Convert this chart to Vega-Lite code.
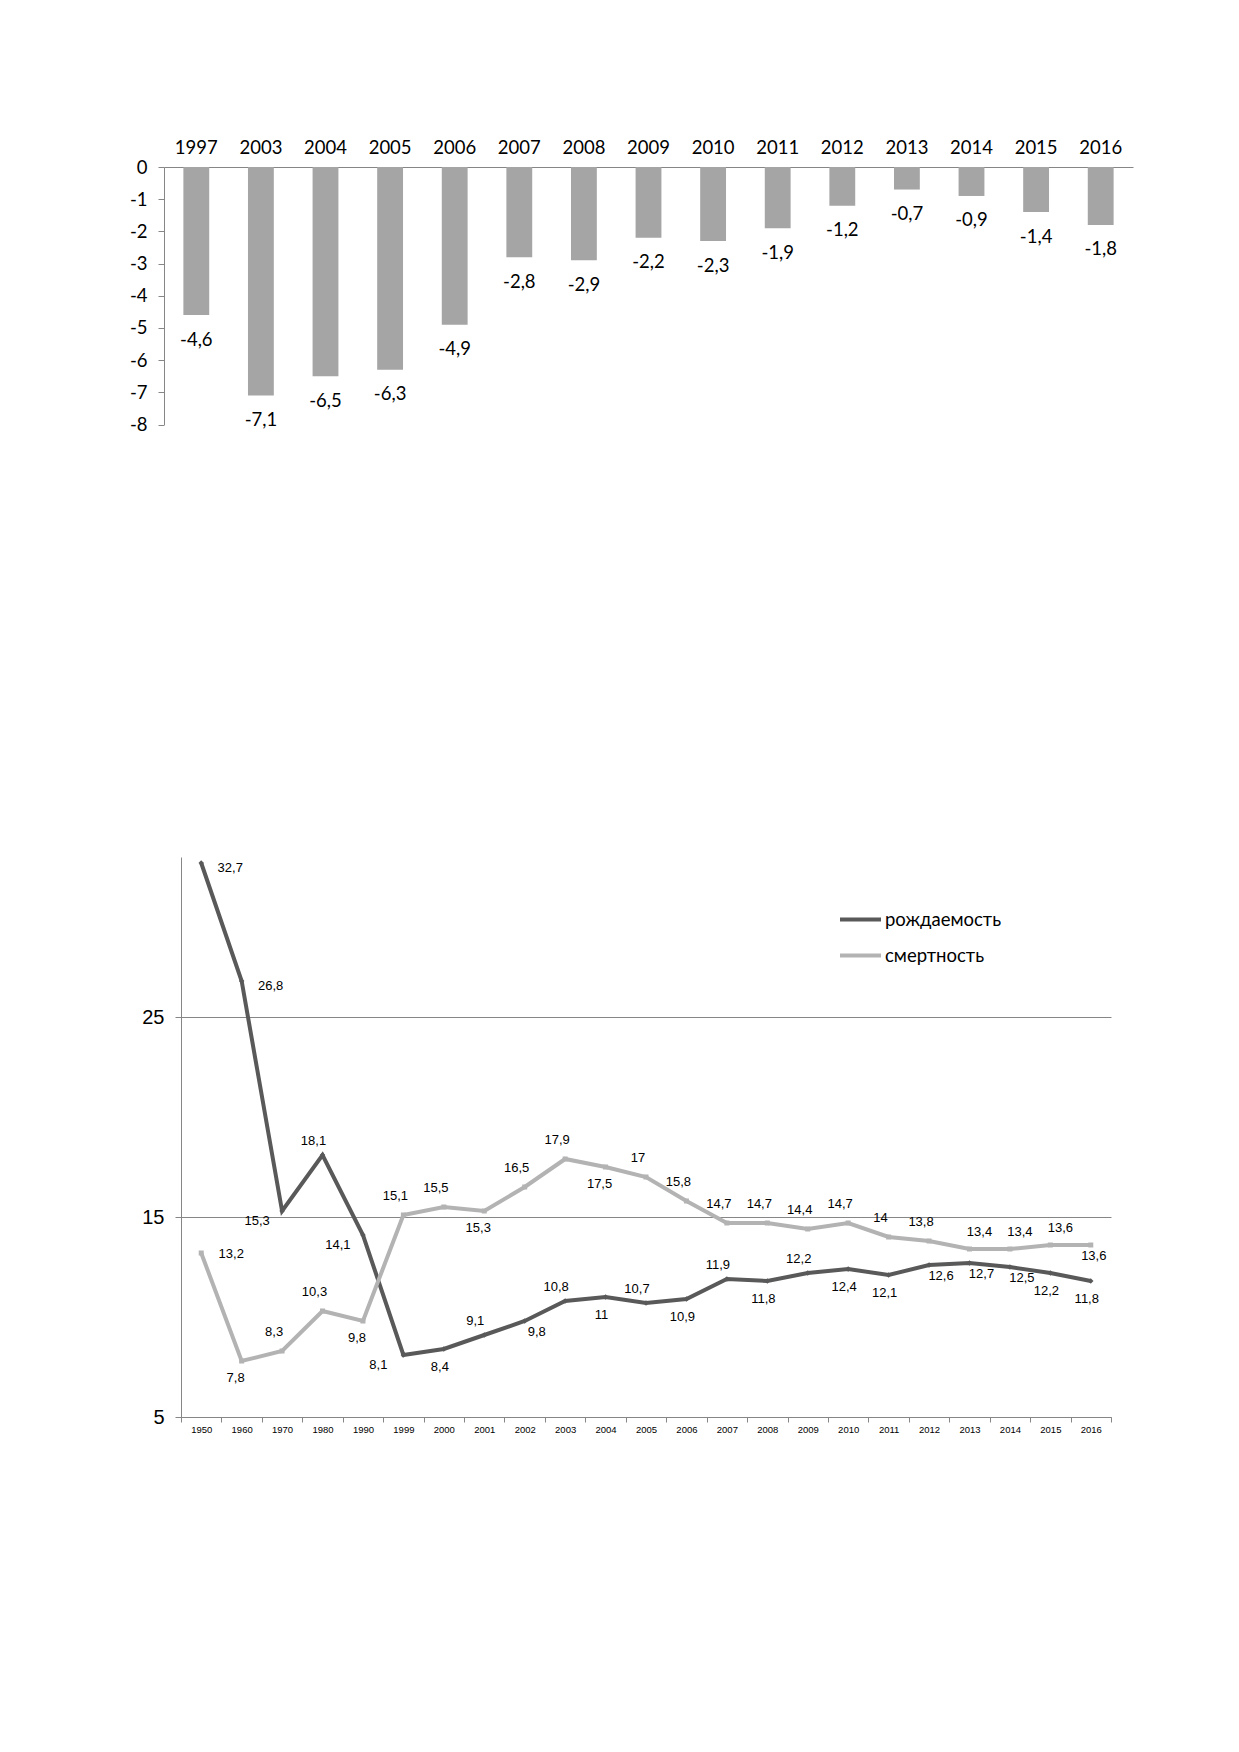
{
  "$schema": "https://vega.github.io/schema/vega-lite/v6.json",
  "padding": {"left": 129, "top": 138, "right": 5, "bottom": 5},
  "background": "white",
  "config": {
    "view": {"stroke": null},
    "axis": {"domainColor": "#868686", "tickColor": "#868686", "labelColor": "#000000", "title": null}
  },
  "datasets": {
    "bars": [
      {"year": "1997", "value": -4.6},
      {"year": "2003", "value": -7.1},
      {"year": "2004", "value": -6.5},
      {"year": "2005", "value": -6.3},
      {"year": "2006", "value": -4.9},
      {"year": "2007", "value": -2.8},
      {"year": "2008", "value": -2.9},
      {"year": "2009", "value": -2.2},
      {"year": "2010", "value": -2.3},
      {"year": "2011", "value": -1.9},
      {"year": "2012", "value": -1.2},
      {"year": "2013", "value": -0.7},
      {"year": "2014", "value": -0.9},
      {"year": "2015", "value": -1.4},
      {"year": "2016", "value": -1.8}
    ],
    "rates": [
      {"year": "1950", "series": "рождаемость", "value": 32.7},
      {"year": "1960", "series": "рождаемость", "value": 26.8},
      {"year": "1970", "series": "рождаемость", "value": 15.3},
      {"year": "1980", "series": "рождаемость", "value": 18.1},
      {"year": "1990", "series": "рождаемость", "value": 14.1},
      {"year": "1999", "series": "рождаемость", "value": 8.1},
      {"year": "2000", "series": "рождаемость", "value": 8.4},
      {"year": "2001", "series": "рождаемость", "value": 9.1},
      {"year": "2002", "series": "рождаемость", "value": 9.8},
      {"year": "2003", "series": "рождаемость", "value": 10.8},
      {"year": "2004", "series": "рождаемость", "value": 11},
      {"year": "2005", "series": "рождаемость", "value": 10.7},
      {"year": "2006", "series": "рождаемость", "value": 10.9},
      {"year": "2007", "series": "рождаемость", "value": 11.9},
      {"year": "2008", "series": "рождаемость", "value": 11.8},
      {"year": "2009", "series": "рождаемость", "value": 12.2},
      {"year": "2010", "series": "рождаемость", "value": 12.4},
      {"year": "2011", "series": "рождаемость", "value": 12.1},
      {"year": "2012", "series": "рождаемость", "value": 12.6},
      {"year": "2013", "series": "рождаемость", "value": 12.7},
      {"year": "2014", "series": "рождаемость", "value": 12.5},
      {"year": "2015", "series": "рождаемость", "value": 12.2},
      {"year": "2016", "series": "рождаемость", "value": 11.8},
      {"year": "1950", "series": "смертность", "value": 13.2},
      {"year": "1960", "series": "смертность", "value": 7.8},
      {"year": "1970", "series": "смертность", "value": 8.3},
      {"year": "1980", "series": "смертность", "value": 10.3},
      {"year": "1990", "series": "смертность", "value": 9.8},
      {"year": "1999", "series": "смертность", "value": 15.1},
      {"year": "2000", "series": "смертность", "value": 15.5},
      {"year": "2001", "series": "смертность", "value": 15.3},
      {"year": "2002", "series": "смертность", "value": 16.5},
      {"year": "2003", "series": "смертность", "value": 17.9},
      {"year": "2004", "series": "смертность", "value": 17.5},
      {"year": "2005", "series": "смертность", "value": 17},
      {"year": "2006", "series": "смертность", "value": 15.8},
      {"year": "2007", "series": "смертность", "value": 14.7},
      {"year": "2008", "series": "смертность", "value": 14.7},
      {"year": "2009", "series": "смертность", "value": 14.4},
      {"year": "2010", "series": "смертность", "value": 14.7},
      {"year": "2011", "series": "смертность", "value": 14},
      {"year": "2012", "series": "смертность", "value": 13.8},
      {"year": "2013", "series": "смертность", "value": 13.4},
      {"year": "2014", "series": "смертность", "value": 13.4},
      {"year": "2015", "series": "смертность", "value": 13.6},
      {"year": "2016", "series": "смертность", "value": 13.6}
    ]
  },
  "vconcat": [
    {
      "width": 969,
      "height": 257.5,
      "data": {"name": "bars"},
      "transform": [{"calculate": "replace(toString(datum.value), '.', ',')", "as": "label"}],
      "encoding": {
        "x": {
          "field": "year",
          "type": "ordinal",
          "scale": {"type": "band", "paddingInner": 0.6, "paddingOuter": 0.3},
          "axis": {
            "orient": "top", "labelAngle": 0, "ticks": false, "tickSize": 0,
            "labelPadding": 10, "labelFont": "Lato", "labelFontSize": 18.5
          }
        },
        "y": {
          "field": "value",
          "type": "quantitative",
          "scale": {"domain": [-8, 0], "nice": false},
          "axis": {
            "values": [-8, -7, -6, -5, -4, -3, -2, -1, 0],
            "grid": false, "tickSize": 6, "labelPadding": 11,
            "labelFont": "Lato", "labelFontSize": 18.5,
            "labelExpr": "replace(toString(datum.value), '.', ',')"
          }
        }
      },
      "layer": [
        {"mark": {"type": "bar", "color": "#a5a5a5"}},
        {
          "mark": {"type": "text", "baseline": "middle", "dy": 24.5, "font": "Lato", "fontSize": 18.5, "color": "#000000"},
          "encoding": {"text": {"field": "label"}}
        }
      ]
    },
    {
      "width": 947,
      "height": 560,
      "data": {"name": "rates"},
      "transform": [{"calculate": "replace(toString(datum.value), '.', ',')", "as": "label"}],
      "encoding": {
        "x": {
          "field": "year",
          "type": "ordinal",
          "scale": {"type": "band", "range": [17, 947], "paddingInner": 0, "paddingOuter": 0},
          "axis": {
            "labelAngle": 0, "tickBand": "extent", "tickSize": 5, "labelPadding": 2,
            "labelFont": "Liberation Sans", "labelFontSize": 9.5
          }
        },
        "y": {
          "field": "value",
          "type": "quantitative",
          "scale": {"domain": [5, 33], "nice": false, "zero": false},
          "axis": {
            "values": [5, 15, 25], "grid": true, "gridColor": "#868686", "offset": -17,
            "tickSize": 6, "labelPadding": 11,
            "labelFont": "Liberation Sans", "labelFontSize": 20
          }
        }
      },
      "layer": [
        {
          "mark": {"type": "line", "strokeWidth": 4},
          "encoding": {
            "color": {
              "field": "series",
              "type": "nominal",
              "scale": {"domain": ["рождаемость", "смертность"], "range": ["#595959", "#b3b3b3"]},
              "legend": {
                "title": null, "orient": "none", "legendX": 674, "legendY": 730,
                "symbolType": "stroke", "symbolSize": 1681, "symbolStrokeWidth": 4,
                "rowPadding": 4, "labelOffset": 2,
                "labelFont": "Lato", "labelFontSize": 18.5, "labelColor": "#000000"
              }
            }
          }
        },
        {
          "transform": [{"filter": "datum.series === 'рождаемость'"}],
          "mark": {"type": "point", "shape": "diamond", "filled": true, "size": 30, "color": "#595959", "opacity": 1}
        },
        {
          "transform": [{"filter": "datum.series === 'смертность'"}],
          "mark": {"type": "point", "shape": "square", "filled": true, "size": 25, "color": "#b3b3b3", "opacity": 1}
        },
        {
          "transform": [{"filter": {"and": [{"field": "series", "equal": "рождаемость"}, {"field": "year", "oneOf": ["1950", "1960"]}]}}],
          "mark": {"type": "text", "dx": 29, "dy": 5, "font": "Liberation Sans", "fontSize": 13, "color": "#000000"},
          "encoding": {"text": {"field": "label"}}
        },
        {
          "transform": [{"filter": {"and": [{"field": "series", "equal": "рождаемость"}, {"field": "year", "oneOf": ["1980", "2001", "2003", "2005", "2007", "2009"]}]}}],
          "mark": {"type": "text", "dx": -9, "dy": -14, "font": "Liberation Sans", "fontSize": 13, "color": "#000000"},
          "encoding": {"text": {"field": "label"}}
        },
        {
          "transform": [{"filter": {"and": [{"field": "series", "equal": "рождаемость"}, {"field": "year", "oneOf": ["2000", "2004", "2006", "2008", "2010", "2011", "2015", "2016"]}]}}],
          "mark": {"type": "text", "dx": -4, "dy": 18, "font": "Liberation Sans", "fontSize": 13, "color": "#000000"},
          "encoding": {"text": {"field": "label"}}
        },
        {
          "transform": [{"filter": {"and": [{"field": "series", "equal": "рождаемость"}, {"field": "year", "oneOf": ["1970", "1990", "1999"]}]}}],
          "mark": {"type": "text", "dx": -25, "dy": 10, "font": "Liberation Sans", "fontSize": 13, "color": "#000000"},
          "encoding": {"text": {"field": "label"}}
        },
        {
          "transform": [{"filter": {"and": [{"field": "series", "equal": "рождаемость"}, {"field": "year", "oneOf": ["2002", "2012", "2013", "2014"]}]}}],
          "mark": {"type": "text", "dx": 12, "dy": 11, "font": "Liberation Sans", "fontSize": 13, "color": "#000000"},
          "encoding": {"text": {"field": "label"}}
        },
        {
          "transform": [{"filter": {"and": [{"field": "series", "equal": "смертность"}, {"field": "year", "oneOf": ["1950"]}]}}],
          "mark": {"type": "text", "dx": 30, "dy": 1, "font": "Liberation Sans", "fontSize": 13, "color": "#000000"},
          "encoding": {"text": {"field": "label"}}
        },
        {
          "transform": [{"filter": {"and": [{"field": "series", "equal": "смертность"}, {"field": "year", "oneOf": ["1970", "1980", "1999", "2000", "2002", "2003", "2005", "2006", "2007", "2008", "2009", "2010", "2011", "2012"]}]}}],
          "mark": {"type": "text", "dx": -8, "dy": -19, "font": "Liberation Sans", "fontSize": 13, "color": "#000000"},
          "encoding": {"text": {"field": "label"}}
        },
        {
          "transform": [{"filter": {"and": [{"field": "series", "equal": "смертность"}, {"field": "year", "oneOf": ["2013", "2014", "2015"]}]}}],
          "mark": {"type": "text", "dx": 10, "dy": -17, "font": "Liberation Sans", "fontSize": 13, "color": "#000000"},
          "encoding": {"text": {"field": "label"}}
        },
        {
          "transform": [{"filter": {"and": [{"field": "series", "equal": "смертность"}, {"field": "year", "oneOf": ["1960", "1990", "2001", "2004"]}]}}],
          "mark": {"type": "text", "dx": -6, "dy": 17, "font": "Liberation Sans", "fontSize": 13, "color": "#000000"},
          "encoding": {"text": {"field": "label"}}
        },
        {
          "transform": [{"filter": {"and": [{"field": "series", "equal": "смертность"}, {"field": "year", "oneOf": ["2016"]}]}}],
          "mark": {"type": "text", "dx": 3, "dy": 11, "font": "Liberation Sans", "fontSize": 13, "color": "#000000"},
          "encoding": {"text": {"field": "label"}}
        }
      ]
    }
  ],
  "spacing": 432,
  "bounds": "flush"
}
